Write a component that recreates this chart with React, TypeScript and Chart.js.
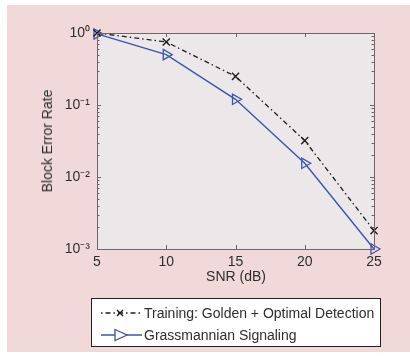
import React, { useEffect, useRef } from "react";
import { Chart, registerables } from "chart.js";

Chart.register(...registerables);

// ---- data ----
const snrDb = [5, 10, 15, 20, 25];
const trainingBler = [1.0, 0.75, 0.25, 0.032, 0.0018];
const grassmannBler = [0.97, 0.5, 0.12, 0.0155, 0.001];
const xTickValues = [5, 10, 15, 20, 25];
const yTickValues = [1e-3, 1e-2, 1e-1, 1];
const yTickLabels = ["10⁻³", "10⁻²", "10⁻¹", "10⁰"];
const seriesNames = ["Training: Golden + Optimal Detection", "Grassmannian Signaling"];
const xTitle = "SNR (dB)";
const yTitle = "Block Error Rate";

const BLUE = "#3a55b2";
const BLACK = "#1e1e1e";
const TEXT = "#2e2e2e";
const AXIS = "#6d6569";
const FONT = "'Liberation Sans', Arial, sans-serif";

const boxTicksPlugin = {
  id: "boxTicks",
  beforeDraw(chart: any) {
    const { ctx, chartArea: a } = chart;
    ctx.save();
    ctx.fillStyle = "#ece7e9";
    ctx.fillRect(a.left, a.top, a.right - a.left, a.bottom - a.top);
    ctx.restore();
  },
  afterDatasetsDraw(chart: any) {
    const { ctx, chartArea: a, scales } = chart;
    const xs = scales.x;
    const ys = scales.y;
    ctx.save();
    ctx.strokeStyle = AXIS;
    ctx.lineWidth = 1;
    ctx.beginPath();
    for (const v of xTickValues) {
      const px = Math.round(xs.getPixelForValue(v)) + 0.5;
      ctx.moveTo(px, a.bottom);
      ctx.lineTo(px, a.bottom - 4);
      ctx.moveTo(px, a.top);
      ctx.lineTo(px, a.top + 4);
    }
    for (const v of yTickValues) {
      const py = Math.round(ys.getPixelForValue(v)) + 0.5;
      ctx.moveTo(a.left, py);
      ctx.lineTo(a.left + 4, py);
      ctx.moveTo(a.right, py);
      ctx.lineTo(a.right - 4, py);
    }
    for (let d = 0; d < yTickValues.length - 1; d++) {
      const base = yTickValues[d];
      for (let k = 2; k <= 9; k++) {
        const py = Math.round(ys.getPixelForValue(base * k)) + 0.5;
        ctx.moveTo(a.left, py);
        ctx.lineTo(a.left + 2.5, py);
        ctx.moveTo(a.right, py);
        ctx.lineTo(a.right - 2.5, py);
      }
    }
    ctx.stroke();
    ctx.strokeRect(Math.round(a.left) + 0.5, Math.round(a.top) + 0.5, Math.round(a.right - a.left), Math.round(a.bottom - a.top));
    ctx.restore();
  },
};

export default function App() {
  const ref = useRef<HTMLCanvasElement | null>(null);

  useEffect(() => {
    if (!ref.current) return;
    const chart = new Chart(ref.current, {
      type: "line",
      data: {
        datasets: [
          {
            label: seriesNames[0],
            data: snrDb.map((x, i) => ({ x, y: trainingBler[i] })),
            borderColor: BLACK,
            borderWidth: 1.3,
            borderDash: [5, 3, 1.5, 3],
            pointStyle: "crossRot",
            pointRadius: 5,
            pointBorderWidth: 1.4,
            pointBorderColor: BLACK,
            pointBackgroundColor: "rgba(0,0,0,0)",
            fill: false,
            clip: false as any,
          },
          {
            label: seriesNames[1],
            data: snrDb.map((x, i) => ({ x, y: grassmannBler[i] })),
            borderColor: BLUE,
            borderWidth: 1.4,
            pointStyle: "triangle",
            rotation: 90,
            pointRadius: 6,
            pointBorderWidth: 1.3,
            pointBorderColor: BLUE,
            pointBackgroundColor: "rgba(0,0,0,0)",
            fill: false,
            clip: false as any,
          },
        ],
      },
      options: {
        animation: false,
        responsive: false,
        maintainAspectRatio: false,
        layout: { padding: { top: 33, right: 36, left: 0, bottom: 0 } },
        plugins: { legend: { display: false }, tooltip: { enabled: false } },
        scales: {
          x: {
            type: "linear",
            min: 5,
            max: 25,
            afterBuildTicks: (s: any) => {
              s.ticks = xTickValues.map((v) => ({ value: v }));
            },
            afterFit: (s: any) => {
              s.height = 111;
            },
            grid: { display: false, drawTicks: false },
            border: { display: false },
            ticks: {
              padding: 5,
              color: TEXT,
              font: { family: FONT, size: 14 },
              maxRotation: 0,
              callback: (v: any) => String(v),
            },
          },
          y: {
            type: "logarithmic",
            min: 1e-3,
            max: 1,
            afterBuildTicks: (s: any) => {
              s.ticks = yTickValues.map((v) => ({ value: v }));
            },
            afterFit: (s: any) => {
              s.width = 97;
            },
            grid: { display: false, drawTicks: false },
            border: { display: false },
            ticks: {
              padding: 7,
              color: TEXT,
              font: { family: FONT, size: 14 },
              callback: (v: any) => {
                const i = yTickValues.findIndex((t) => Math.abs(Math.log10(t) - Math.log10(v)) < 1e-6);
                return i >= 0 ? yTickLabels[i] : "";
              },
            },
          },
        },
      },
      plugins: [boxTicksPlugin],
    } as any);
    return () => chart.destroy();
  }, []);

  const textStyle: React.CSSProperties = {
    position: "absolute",
    fontFamily: FONT,
    fontSize: 14,
    color: TEXT,
    whiteSpace: "nowrap",
    lineHeight: "16px",
  };

  return (
    <div style={{ position: "absolute", left: 0, top: 0, width: 410, height: 360, background: "#ffffff", overflow: "hidden" }}>
      <div style={{ position: "absolute", left: 7, top: 5, width: 403, height: 347, background: "#f2d9d9" }} />
      <canvas ref={ref} width={410} height={360} style={{ position: "absolute", left: 0, top: 0, width: 410, height: 360 }} />
      <div style={{ ...textStyle, left: 236, top: 276, transform: "translate(-50%, -50%)" }}>{xTitle}</div>
      <div style={{ ...textStyle, left: 47, top: 141, transform: "translate(-50%, -50%) rotate(-90deg)" }}>{yTitle}</div>
      <div
        style={{
          position: "absolute",
          left: 91,
          top: 298,
          width: 288,
          height: 47,
          background: "#ffffff",
          border: "1px solid #222",
        }}
      >
        <svg style={{ position: "absolute", left: 8, top: 6 }} width={44} height={16}>
          <line x1={1} y1={8} x2={42} y2={8} stroke={BLACK} strokeWidth={1.3} strokeDasharray="1.5 3 5 3" />
          <line x1={17} y1={5} x2={23} y2={11} stroke={BLACK} strokeWidth={1.4} />
          <line x1={17} y1={11} x2={23} y2={5} stroke={BLACK} strokeWidth={1.4} />
        </svg>
        <div style={{ ...textStyle, left: 52, top: 6 }}>{seriesNames[0]}</div>
        <svg style={{ position: "absolute", left: 8, top: 28 }} width={44} height={16}>
          <line x1={1} y1={8} x2={42} y2={8} stroke={BLUE} strokeWidth={1.4} />
          <polygon points="15,2.5 27,8 15,13.5" fill="#ffffff" stroke={BLUE} strokeWidth={1.3} />
        </svg>
        <div style={{ ...textStyle, left: 52, top: 28 }}>{seriesNames[1]}</div>
      </div>
    </div>
  );
}
